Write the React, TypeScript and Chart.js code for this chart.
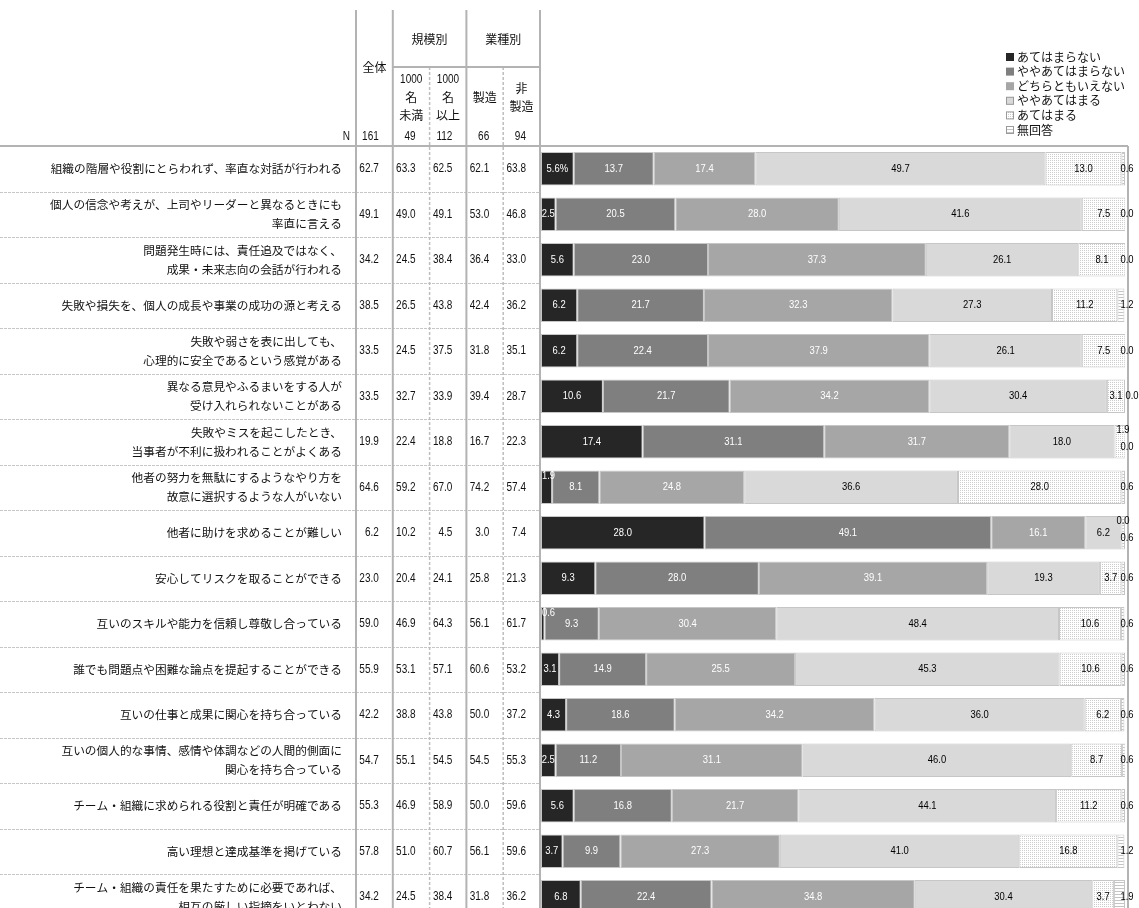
import React, { useEffect, useRef } from "react";
import { Chart, registerables } from "chart.js";

Chart.register(...registerables);

// ---------- data ----------
const categories: (string | string[])[] = [
  "組織の階層や役割にとらわれず、率直な対話が行われる",
  ["個人の信念や考えが、上司やリーダーと異なるときにも", "率直に言える"],
  ["問題発生時には、責任追及ではなく、", "成果・未来志向の会話が行われる"],
  "失敗や損失を、個人の成長や事業の成功の源と考える",
  ["失敗や弱さを表に出しても、", "心理的に安全であるという感覚がある"],
  ["異なる意見やふるまいをする人が", "受け入れられないことがある"],
  ["失敗やミスを起こしたとき、", "当事者が不利に扱われることがよくある"],
  ["他者の努力を無駄にするようなやり方を", "故意に選択するような人がいない"],
  "他者に助けを求めることが難しい",
  "安心してリスクを取ることができる",
  "互いのスキルや能力を信頼し尊敬し合っている",
  "誰でも問題点や困難な論点を提起することができる",
  "互いの仕事と成果に関心を持ち合っている",
  ["互いの個人的な事情、感情や体調などの人間的側面に", "関心を持ち合っている"],
  "チーム・組織に求められる役割と責任が明確である",
  "高い理想と達成基準を掲げている",
  ["チーム・組織の責任を果たすために必要であれば、", "相互の厳しい指摘をいとわない"],
];

const seriesNames = ["あてはまらない", "ややあてはまらない", "どちらともいえない", "ややあてはまる", "あてはまる", "無回答"];

const notApply = [5.6, 2.5, 5.6, 6.2, 6.2, 10.6, 17.4, 1.9, 28.0, 9.3, 0.6, 3.1, 4.3, 2.5, 5.6, 3.7, 6.8];
const ratherNotApply = [13.7, 20.5, 23.0, 21.7, 22.4, 21.7, 31.1, 8.1, 49.1, 28.0, 9.3, 14.9, 18.6, 11.2, 16.8, 9.9, 22.4];
const neither = [17.4, 28.0, 37.3, 32.3, 37.9, 34.2, 31.7, 24.8, 16.1, 39.1, 30.4, 25.5, 34.2, 31.1, 21.7, 27.3, 34.8];
const ratherApply = [49.7, 41.6, 26.1, 27.3, 26.1, 30.4, 18.0, 36.6, 6.2, 19.3, 48.4, 45.3, 36.0, 46.0, 44.1, 41.0, 30.4];
const apply = [13.0, 7.5, 8.1, 11.2, 7.5, 3.1, 1.9, 28.0, 0.0, 3.7, 10.6, 10.6, 6.2, 8.7, 11.2, 16.8, 3.7];
const noAnswer = [0.6, 0.0, 0.0, 1.2, 0.0, 0.0, 0.0, 0.6, 0.6, 0.6, 0.6, 0.6, 0.6, 0.6, 0.6, 1.2, 1.9];
const seriesData = [notApply, ratherNotApply, neither, ratherApply, apply, noAnswer];

const groupHeaders = ["規模別", "業種別"];
const totalHeader = "全体";
const subHeaders: string[][] = [["1000", "名", "未満"], ["1000", "名", "以上"], ["製造"], ["非", "製造"]];
const sampleN = [161, 49, 112, 66, 94];
const colTotal = [62.7, 49.1, 34.2, 38.5, 33.5, 33.5, 19.9, 64.6, 6.2, 23.0, 59.0, 55.9, 42.2, 54.7, 55.3, 57.8, 34.2];
const colUnder1000 = [63.3, 49.0, 24.5, 26.5, 24.5, 32.7, 22.4, 59.2, 10.2, 20.4, 46.9, 53.1, 38.8, 55.1, 46.9, 51.0, 24.5];
const colOver1000 = [62.5, 49.1, 38.4, 43.8, 37.5, 33.9, 18.8, 67.0, 4.5, 24.1, 64.3, 57.1, 43.8, 54.5, 58.9, 60.7, 38.4];
const colMfg = [62.1, 53.0, 36.4, 42.4, 31.8, 39.4, 16.7, 74.2, 3.0, 25.8, 56.1, 60.6, 50.0, 54.5, 50.0, 56.1, 31.8];
const colNonMfg = [63.8, 46.8, 33.0, 36.2, 35.1, 28.7, 22.3, 57.4, 7.4, 21.3, 61.7, 53.2, 37.2, 55.3, 59.6, 59.6, 36.2];
const tableCols = [colTotal, colUnder1000, colOver1000, colMfg, colNonMfg];

// ---------- styles ----------
const JP = "'Noto Sans CJK JP', 'Noto Sans', sans-serif";
const NUM = "'Liberation Sans', Arimo, 'DejaVu Sans', sans-serif";
const TEXT = "#111";
const LINE = "#b3b3b3";
const NUM_SIZE = 13;
const NUM_SX = 0.77;
const BAR_SIZE = 11.5;
const BAR_SX = 0.82;

function makeDots(): CanvasPattern | string {
  const c = document.createElement("canvas");
  c.width = 2;
  c.height = 2;
  const g = c.getContext("2d");
  if (!g) return "#f0f0f0";
  g.fillStyle = "#ffffff";
  g.fillRect(0, 0, 2, 2);
  g.fillStyle = "#cccccc";
  g.fillRect(0, 0, 1, 1);
  return g.createPattern(c, "repeat") || "#f0f0f0";
}

function makeStripes(): CanvasPattern | string {
  const c = document.createElement("canvas");
  c.width = 2;
  c.height = 3;
  const g = c.getContext("2d");
  if (!g) return "#ffffff";
  g.fillStyle = "#ffffff";
  g.fillRect(0, 0, 2, 3);
  g.fillStyle = "#c4c4c4";
  g.fillRect(0, 0, 2, 1);
  return g.createPattern(c, "repeat") || "#ffffff";
}

// text drawn with a horizontal condense factor
function condText(ctx: CanvasRenderingContext2D, text: string, x: number, y: number, align: CanvasTextAlign, sx: number) {
  ctx.save();
  ctx.translate(x, y);
  ctx.scale(sx, 1);
  ctx.textAlign = align;
  ctx.fillText(text, 0, 0);
  ctx.restore();
}

export default function App() {
  const ref = useRef<HTMLCanvasElement>(null);

  useEffect(() => {
    const canvas = ref.current;
    if (!canvas) return;
    const dots = makeDots();
    const stripes = makeStripes();
    const fills: (string | CanvasPattern)[] = ["#262626", "#7f7f7f", "#a6a6a6", "#d9d9d9", dots, stripes];

    const tablePlugin = {
      id: "tablePlugin",
      beforeDraw(chart: any) {
        const { ctx, chartArea: a } = chart;
        const yS = chart.scales.y;
        const H = chart.height;
        const tRight = a.left - 1;
        const colW = 36.8;
        const edges = [0, 1, 2, 3, 4, 5].map((k) => tRight - (5 - k) * colW);
        const n = categories.length;
        ctx.save();
        // row separators
        ctx.strokeStyle = "#c6c6c6";
        ctx.lineWidth = 1;
        ctx.setLineDash([3, 1]);
        for (let j = 0; j < n - 1; j++) {
          const yb = Math.round((yS.getPixelForValue(j) + yS.getPixelForValue(j + 1)) / 2) + 0.5;
          ctx.beginPath();
          ctx.moveTo(0, yb);
          ctx.lineTo(tRight, yb);
          ctx.stroke();
        }
        // dotted verticals
        ctx.strokeStyle = "#bdbdbd";
        ctx.lineWidth = 1.5;
        ctx.setLineDash([3, 2]);
        [edges[2], edges[4]].forEach((x) => {
          ctx.beginPath();
          ctx.moveTo(x, 67);
          ctx.lineTo(x, H);
          ctx.stroke();
        });
        ctx.setLineDash([]);
        ctx.strokeStyle = LINE;
        ctx.lineWidth = 2;
        [edges[0], edges[1], edges[3], edges[5]].forEach((x) => {
          ctx.beginPath();
          ctx.moveTo(x, 10);
          ctx.lineTo(x, H);
          ctx.stroke();
        });
        // group line
        ctx.beginPath();
        ctx.moveTo(edges[1], 67);
        ctx.lineTo(edges[5], 67);
        ctx.stroke();
        // header bottom / frame top
        const frameR = a.right + 3;
        ctx.beginPath();
        ctx.moveTo(0, a.top);
        ctx.lineTo(frameR, a.top);
        ctx.stroke();
        ctx.beginPath();
        ctx.moveTo(frameR, a.top);
        ctx.lineTo(frameR, H);
        ctx.stroke();

        // header texts
        ctx.fillStyle = TEXT;
        ctx.textBaseline = "middle";
        ctx.textAlign = "center";
        ctx.font = `12px ${JP}`;
        ctx.fillText(totalHeader, (edges[0] + edges[1]) / 2, 67);
        ctx.fillText(groupHeaders[0], (edges[1] + edges[3]) / 2, 39);
        ctx.fillText(groupHeaders[1], (edges[3] + edges[5]) / 2, 39);
        subHeaders.forEach((lines, k) => {
          const cx = (edges[k + 1] + edges[k + 2]) / 2;
          const y0 = 97 - ((lines.length - 1) * 18) / 2;
          lines.forEach((t, li) => {
            if (/^[0-9]+$/.test(t)) {
              ctx.font = `${NUM_SIZE}px ${NUM}`;
              condText(ctx, t, cx, y0 + li * 18, "center", NUM_SX);
            } else {
              ctx.font = `12px ${JP}`;
              ctx.textAlign = "center";
              ctx.fillText(t, cx, y0 + li * 18);
            }
          });
        });
        // N row
        ctx.font = `${NUM_SIZE}px ${NUM}`;
        condText(ctx, "N", edges[0] - 6, 136, "right", NUM_SX);
        sampleN.forEach((v, k) => condText(ctx, String(v), edges[k + 1] - 14, 136, "right", NUM_SX));
        // values
        for (let j = 0; j < n; j++) {
          const y = yS.getPixelForValue(j);
          tableCols.forEach((col, k) => condText(ctx, col[j].toFixed(1), edges[k + 1] - 14, y, "right", NUM_SX));
        }
        ctx.restore();
      },
    };

    const labelPlugin = {
      id: "segLabels",
      afterDatasetsDraw(chart: any) {
        const { ctx, chartArea: a } = chart;
        const n = categories.length;
        ctx.save();
        ctx.font = `${BAR_SIZE}px ${NUM}`;
        ctx.textBaseline = "middle";
        for (let j = 0; j < n; j++) {
          const els = seriesData.map((_, i) => chart.getDatasetMeta(i).data[j]);
          const vals = seriesData.map((s) => s[j]);
          const y = els[0].y;
          for (let i = 0; i < 4; i++) {
            const el = els[i];
            const v = vals[i];
            let text = v.toFixed(1);
            if (i === 0 && j === 0) text += "%";
            ctx.fillStyle = i < 3 ? "#ffffff" : "#000000";
            const lo = Math.min(el.x, el.base);
            const hi = Math.max(el.x, el.base);
            if (i === 0 && v < 2) {
              condText(ctx, text, lo + 1, y - 11, "left", BAR_SX);
            } else {
              condText(ctx, text, (lo + hi) / 2, y, "center", BAR_SX);
            }
          }
          ctx.fillStyle = "#000000";
          const e4 = els[4];
          const t4 = vals[4].toFixed(1);
          const t5 = vals[5].toFixed(1);
          const w4 = ctx.measureText(t4).width * BAR_SX;
          const w5 = ctx.measureText(t5).width * BAR_SX;
          if (vals[4] < 2.5) {
            condText(ctx, t4, a.right - 2, y - 12, "center", BAR_SX);
            condText(ctx, t5, a.right + 2, y + 5, "center", BAR_SX);
          } else {
            const c4 = (Math.min(e4.x, e4.base) + Math.max(e4.x, e4.base)) / 2;
            condText(ctx, t4, c4, y, "center", BAR_SX);
            const c5 = Math.max(a.right + 2, c4 + w4 / 2 + 3 + w5 / 2);
            condText(ctx, t5, c5, y, "center", BAR_SX);
          }
        }
        ctx.restore();
      },
    };

    const legendPlugin = {
      id: "legendBox",
      afterDraw(chart: any) {
        const ctx = chart.ctx;
        ctx.save();
        ctx.font = `12px ${JP}`;
        ctx.textBaseline = "middle";
        ctx.textAlign = "left";
        seriesNames.forEach((name, i) => {
          const y = 57 + i * 14.6;
          ctx.fillStyle = fills[i];
          ctx.fillRect(1006, y - 4, 8, 8);
          ctx.lineWidth = 1;
          if (i >= 3) {
            ctx.strokeStyle = "#9a9a9a";
            ctx.strokeRect(1006.5, y - 3.5, 7, 7);
          }
          ctx.fillStyle = TEXT;
          ctx.fillText(name, 1017, y);
        });
        ctx.restore();
      },
    };

    const chart = new Chart(canvas, {
      type: "bar",
      data: {
        labels: categories as any,
        datasets: seriesNames.map((name, i) => ({
          label: name,
          data: seriesData[i],
          backgroundColor: fills[i] as any,
          borderColor: "#c6c6c6",
          borderWidth: 1,
          borderSkipped: false,
          categoryPercentage: 1,
          barPercentage: 0.736,
        })),
      },
      options: {
        indexAxis: "y",
        responsive: false,
        maintainAspectRatio: false,
        animation: false,
        layout: { padding: { top: 146, bottom: 0.5, right: 14, left: 0 } },
        scales: {
          x: { stacked: true, min: 0, max: 100, display: false },
          y: {
            stacked: true,
            grid: { display: false, drawTicks: false },
            border: { display: false },
            ticks: {
              autoSkip: false,
              padding: 199,
              color: TEXT,
              font: { family: JP, size: 11.7, lineHeight: 1.62 },
            },
            afterFit: (s: any) => {
              s.width = 541;
              s.paddingTop = 0;
              s.paddingBottom = 0;
            },
          },
        },
        plugins: { legend: { display: false }, tooltip: { enabled: false } },
      },
      plugins: [tablePlugin, labelPlugin, legendPlugin],
    } as any);

    return () => chart.destroy();
  }, []);

  return (
    <div style={{ position: "fixed", left: 0, top: 0, width: 1139, height: 908, overflow: "hidden", background: "#fff" }}>
      <canvas ref={ref} width={1139} height={920} style={{ display: "block", width: 1139, height: 920 }} />
    </div>
  );
}
